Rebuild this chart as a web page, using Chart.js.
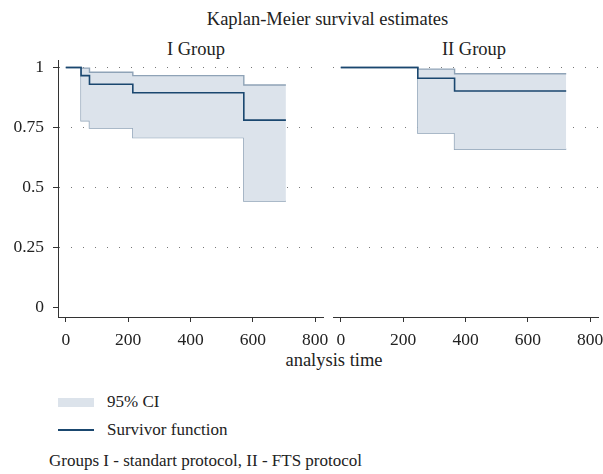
<!DOCTYPE html>
<html>
<head>
<meta charset="utf-8">
<script src="https://cdn.jsdelivr.net/npm/chart.js@4"></script>
<style>
  body { margin: 0; background: #fff; }
  #wrap { position: relative; width: 603px; height: 474px; font-family: "Liberation Serif", serif; color: #222; }
  #wrap canvas { position: absolute; top: 0; }
  .txt { position: absolute; white-space: nowrap; line-height: 1; }
</style>
</head>
<body>
<div id="wrap">
  <div class="txt" style="left:0;width:655px;text-align:center;top:10px;font-size:18.5px">Kaplan-Meier survival estimates</div>
  <div class="txt" style="left:96px;width:200px;text-align:center;top:40px;font-size:18.5px">I Group</div>
  <div class="txt" style="left:374px;width:200px;text-align:center;top:40px;font-size:18.5px">II Group</div>
  <canvas id="panel1" width="330" height="350" style="left:0"></canvas>
  <canvas id="panel2" width="275" height="350" style="left:328px"></canvas>
  <div class="txt" style="left:234px;width:200px;text-align:center;top:351px;font-size:18.5px">analysis time</div>
  <div style="position:absolute;left:58px;top:398px;width:36px;height:9px;background:#dce3eb"></div>
  <div class="txt" style="left:107px;top:393px;font-size:17px">95% CI</div>
  <div style="position:absolute;left:58px;top:429px;width:36px;height:1.5px;background:#1a476f"></div>
  <div class="txt" style="left:107px;top:421px;font-size:17px">Survivor function</div>
  <div class="txt" style="left:49px;top:452px;font-size:17px">Groups I - standart protocol, II - FTS protocol</div>
</div>
<script>
const yTicks = [0, 0.25, 0.5, 0.75, 1];
const yTickLabels = ['0', '0.25', '0.5', '0.75', '1'];
const xTicks = [0, 200, 400, 600, 800];

// group I (standard protocol)
const timeI  = [0, 49, 76, 215, 571, 706];
const survI  = [1, 0.966, 0.930, 0.895, 0.781, 0.781];
const upperI = [1, 0.997, 0.980, 0.966, 0.927, 0.927];
const lowerI = [1, 0.778, 0.748, 0.708, 0.444, 0.444];

// group II (FTS protocol)
const timeII  = [0, 247, 365, 723];
const survII  = [1, 0.955, 0.902, 0.902];
const upperII = [1, 0.993, 0.974, 0.974];
const lowerII = [1, 0.727, 0.660, 0.660];

const navy = '#1a476f';
const ciLine = '#8fa3b7';
const ciFill = '#dce3eb';

Chart.defaults.font.family = 'Liberation Serif';
Chart.defaults.font.size = 17.5;
Chart.defaults.color = '#222';

function pts(times, vals) {
    return times.map((t, i) => ({ x: t, y: vals[i] }));
}

function panel(id, times, surv, upper, lower, withAxis) {
    new Chart(document.getElementById(id), {
        type: 'line',
        data: {
            datasets: [
                { label: 'Survivor function', data: pts(times, surv), borderColor: navy, borderWidth: 1.6, stepped: true, pointRadius: 0, fill: false },
                { label: 'upper', data: pts(times, upper), borderColor: ciLine, borderWidth: 1.4, stepped: true, pointRadius: 0, fill: '+1', backgroundColor: ciFill },
                { label: 'lower', data: pts(times, lower), borderColor: ciLine, borderWidth: 1.4, stepped: true, pointRadius: 0, fill: false }
            ]
        },
        options: {
            responsive: false,
            animation: false,
            events: [],
            layout: { padding: withAxis ? { top: 60, right: 7, left: 0, bottom: 0 } : { top: 60, right: 5, left: 5, bottom: 0 } },
            plugins: { legend: { display: false }, tooltip: { enabled: false } },
            scales: {
                x: {
                    type: 'linear',
                    min: -25,
                    max: 825,
                    afterBuildTicks: (s) => { s.ticks = xTicks.map(v => ({ value: v })); },
                    afterFit: (s) => { s.height = 33; s.paddingLeft = 0; s.paddingRight = 0; },
                    grid: { drawOnChartArea: false, tickLength: 5, tickColor: '#333' },
                    border: { color: '#333', width: 1 },
                    ticks: { padding: 8, maxRotation: 0, callback: (v) => String(v) }
                },
                y: {
                    min: -0.038,
                    max: 1.031,
                    afterBuildTicks: (s) => { s.ticks = yTicks.map(v => ({ value: v })); },
                    afterFit: (s) => { s.width = withAxis ? 58 : 0; s.paddingTop = 0; s.paddingBottom = 0; },
                    grid: {
                        color: (c) => (c.tick && c.tick.value === 0) ? 'rgba(0,0,0,0)' : '#777',
                        lineWidth: 1,
                        drawTicks: withAxis,
                        tickLength: 5,
                        tickColor: '#333'
                    },
                    border: { display: withAxis, color: '#333', width: 1, dash: [1, 11] },
                    ticks: {
                        display: withAxis, padding: 9,
                        callback: (v) => yTickLabels[yTicks.indexOf(v)]
                    }
                }
            }
        }
    });
}

document.fonts.load('17px "Liberation Serif"').then(() => {
    panel('panel1', timeI, survI, upperI, lowerI, true);
    panel('panel2', timeII, survII, upperII, lowerII, false);
});
</script>
</body>
</html>
